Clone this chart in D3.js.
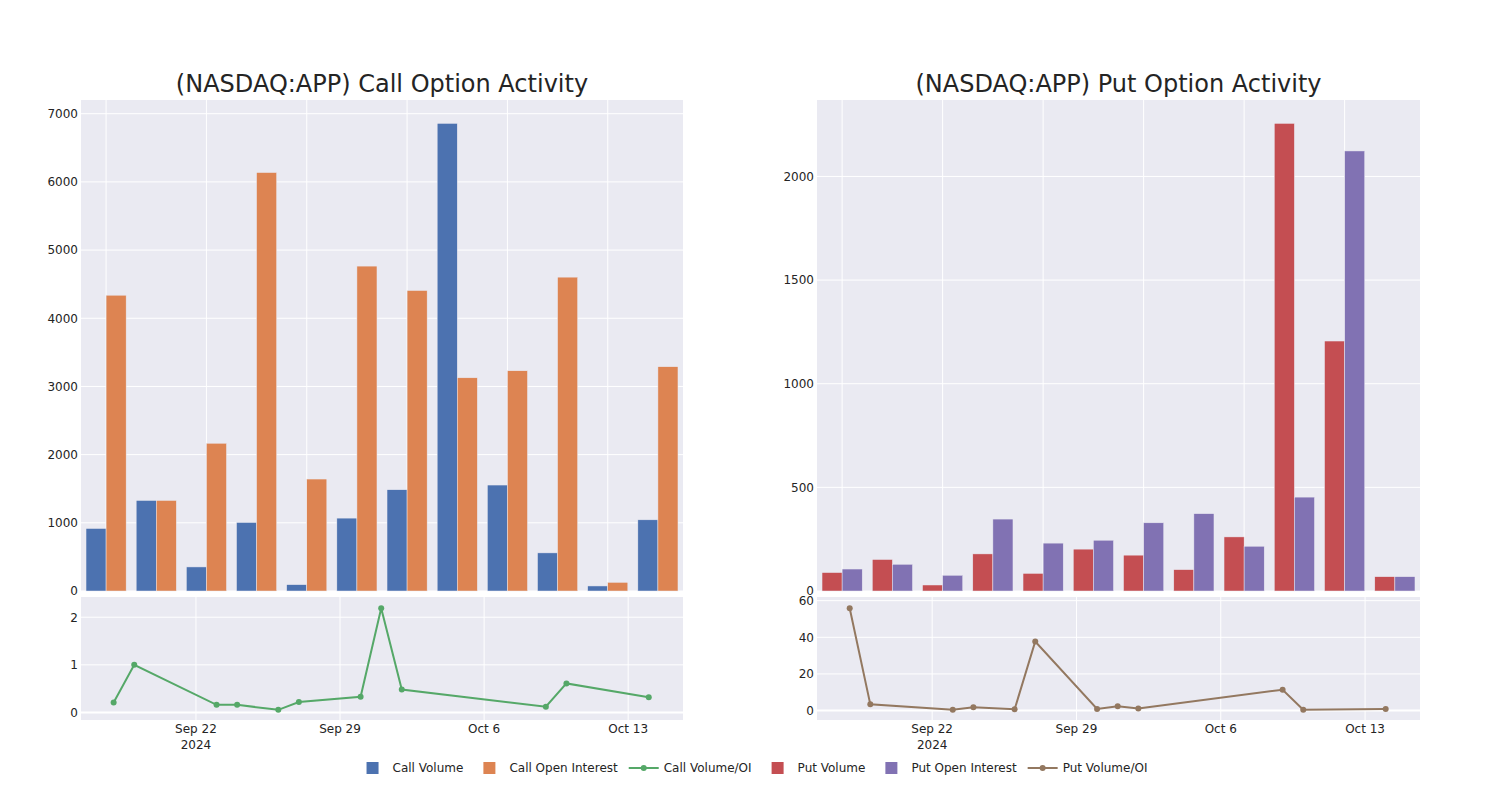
<!DOCTYPE html>
<html><head><meta charset="utf-8">
<script src="https://cdn.jsdelivr.net/npm/d3@7"></script>
<style>
body{margin:0;background:#fff}
text{font-family:"DejaVu Sans",sans-serif;fill:rgb(36,36,36)}
</style>
</head><body>
<svg id="chart" width="1500" height="800"></svg>
<script>
// ---------- data ----------
const dates = ["2024-09-18","2024-09-19","2024-09-23","2024-09-24","2024-09-26","2024-09-27",
               "2024-09-30","2024-10-01","2024-10-02","2024-10-09","2024-10-10","2024-10-14"];
const callVolume       = [917,1328,353,1005,93,1069,1485,6858,1554,559,74,1044];
const callOpenInterest = [4338,1328,2167,6137,1642,4765,4407,3127,3230,4603,127,3289];
const callRatio        = [0.21,1.0,0.16,0.16,0.055,0.22,0.33,2.19,0.48,0.12,0.61,0.32];
const putVolume        = [89,152,29,179,85,202,173,103,261,2256,1206,69];
const putOpenInterest  = [106,129,76,347,231,245,329,373,216,453,2123,69];
const putRatio         = [55.9,3.4,0.4,1.8,0.7,37.7,0.9,2.3,1.1,11.4,0.5,0.9];
const callBarTicks  = [0,1000,2000,3000,4000,5000,6000,7000];
const putBarTicks   = [0,500,1000,1500,2000];
const callLineTicks = [0,1,2];
const putLineTicks  = [0,20,40,60];
const titles = ["(NASDAQ:APP) Call Option Activity","(NASDAQ:APP) Put Option Activity"];
const legendLabels = ["Call Volume","Call Open Interest","Call Volume/OI","Put Volume","Put Open Interest","Put Volume/OI"];

// ---------- styles ----------
const C = {blue:"rgb(76,114,176)",orange:"rgb(221,132,82)",green:"rgb(85,168,104)",
           red:"rgb(196,78,82)",purple:"rgb(129,114,179)",brown:"rgb(147,120,96)",
           bg:"rgb(234,234,242)"};
const FONT = "'DejaVu Sans',sans-serif";
const svg = d3.select("#chart");
const parse = d3.utcParse("%Y-%m-%d");
const dateObjs = dates.map(parse);

const panels = [
  {x0:81,x1:683,title:titles[0],vol:callVolume,oi:callOpenInterest,ratio:callRatio,
   barTicks:callBarTicks,lineTicks:callLineTicks,c1:C.blue,c2:C.orange,cl:C.green},
  {x0:817,x1:1420,title:titles[1],vol:putVolume,oi:putOpenInterest,ratio:putRatio,
   barTicks:putBarTicks,lineTicks:putLineTicks,c1:C.red,c2:C.purple,cl:C.brown}
];
const top0=100, top1=591, bot0=597, bot1=720;

function styleAxis(sel){
  sel.select(".domain").remove();
  sel.selectAll("text").style("font-size","12px").style("font-family",FONT).attr("fill","rgb(36,36,36)");
}

panels.forEach(p=>{
  const g = svg.append("g");
  g.append("text").attr("x",(p.x0+p.x1)/2).attr("y",84).attr("text-anchor","middle")
   .attr("dominant-baseline","central").style("font-size","24px").text(p.title);

  // ---- top bar chart ----
  g.append("rect").attr("x",p.x0).attr("y",top0).attr("width",p.x1-p.x0).attr("height",top1-top0).attr("fill",C.bg);
  const x = d3.scaleBand().domain(dates).range([p.x0,p.x1]).paddingInner(0.2).paddingOuter(0.1);
  const xs = d3.scaleBand().domain(["v","o"]).range([0,x.bandwidth()]);
  const ymax = d3.max([...p.vol,...p.oi])*1.05;
  const y = d3.scaleLinear().domain([0,ymax]).range([top1,top0]);
  g.append("g").selectAll("line").data(p.barTicks).join("line")
    .attr("x1",p.x0).attr("x2",p.x1).attr("y1",d=>y(d)).attr("y2",d=>y(d))
    .attr("stroke","#fff").attr("stroke-width",1);
  g.append("g").selectAll("line").data(dates.filter((d,i)=>i%2===0)).join("line")
    .attr("x1",d=>x(d)+x.bandwidth()/2).attr("x2",d=>x(d)+x.bandwidth()/2)
    .attr("y1",top0).attr("y2",top1).attr("stroke","#fff").attr("stroke-width",1);
  const bars = g.append("g");
  dates.forEach((d,i)=>{
    [["v",p.vol[i],p.c1],["o",p.oi[i],p.c2]].forEach(([k,v,c])=>{
      bars.append("rect").attr("x",x(d)+xs(k)).attr("width",xs.bandwidth())
        .attr("y",y(v)).attr("height",y(0)-y(v)).attr("fill",c)
        .attr("stroke",C.bg).attr("stroke-width",0.5);
    });
  });
  const ya = g.append("g").attr("transform",`translate(${p.x0},0)`)
    .call(d3.axisLeft(y).tickValues(p.barTicks).tickFormat(d3.format("d")).tickSize(0).tickPadding(3));
  styleAxis(ya);

  // ---- bottom line chart ----
  g.append("rect").attr("x",p.x0).attr("y",bot0).attr("width",p.x1-p.x0).attr("height",bot1-bot0).attr("fill",C.bg);
  const ext = d3.extent(dateObjs);
  const span = ext[1]-ext[0];
  const xt = d3.scaleUtc().domain([new Date(+ext[0]-span*0.061), new Date(+ext[1]+span*0.064)]).range([p.x0,p.x1]);
  const rext = d3.extent(p.ratio);
  const rs = rext[1]-rext[0];
  const yl = d3.scaleLinear().domain([rext[0]-rs*0.1,rext[1]+rs*0.11]).range([bot1,bot0]);
  const weekTicks = d3.utcSunday.range(xt.domain()[0], xt.domain()[1]);
  g.append("g").selectAll("line").data(weekTicks).join("line")
    .attr("x1",d=>xt(d)).attr("x2",d=>xt(d)).attr("y1",bot0).attr("y2",bot1)
    .attr("stroke","#fff").attr("stroke-width",1);
  g.append("g").selectAll("line").data(p.lineTicks).join("line")
    .attr("x1",p.x0).attr("x2",p.x1).attr("y1",d=>yl(d)).attr("y2",d=>yl(d))
    .attr("stroke","#fff").attr("stroke-width",d=>d===0?2:1);
  const line = d3.line().x((d,i)=>xt(dateObjs[i])).y(d=>yl(d));
  g.append("path").datum(p.ratio).attr("d",line).attr("fill","none")
    .attr("stroke",p.cl).attr("stroke-width",2);
  g.append("g").selectAll("circle").data(p.ratio).join("circle")
    .attr("cx",(d,i)=>xt(dateObjs[i])).attr("cy",d=>yl(d)).attr("r",3).attr("fill",p.cl);
  const yla = g.append("g").attr("transform",`translate(${p.x0},0)`)
    .call(d3.axisLeft(yl).tickValues(p.lineTicks).tickFormat(d3.format("d")).tickSize(0).tickPadding(3));
  styleAxis(yla);
  const fmt = d3.utcFormat("%b %-d");
  const xl = g.append("g");
  weekTicks.forEach((d,i)=>{
    xl.append("text").attr("x",xt(d)).attr("y",733).attr("text-anchor","middle").style("font-size","12px").text(fmt(d));
    if(i===0) xl.append("text").attr("x",xt(d)).attr("y",749).attr("text-anchor","middle").style("font-size","12px").text(d3.utcFormat("%Y")(d));
  });
});

// ---------- legend ----------
const legendColors = [C.blue,C.orange,C.green,C.red,C.purple,C.brown];
const legendType = ["bar","bar","line","bar","bar","line"];
const lg = svg.append("g");
let cx = 0;
legendLabels.forEach((lab,i)=>{
  const it = lg.append("g").attr("transform",`translate(${cx},0)`);
  if(legendType[i]==="bar"){
    it.append("rect").attr("x",14).attr("y",-6).attr("width",12).attr("height",12).attr("fill",legendColors[i]);
  } else {
    it.append("line").attr("x1",5).attr("x2",35).attr("y1",0).attr("y2",0).attr("stroke",legendColors[i]).attr("stroke-width",2);
    it.append("circle").attr("cx",20).attr("cy",0).attr("r",3).attr("fill",legendColors[i]);
  }
  const t = it.append("text").attr("x",40).attr("y",0).attr("dominant-baseline","central").style("font-size","12px").text(lab);
  cx += 40 + t.node().getComputedTextLength() + 6;
});
const lw = cx-6;
lg.attr("transform",`translate(${750-lw/2},768)`);
</script>
</body></html>
